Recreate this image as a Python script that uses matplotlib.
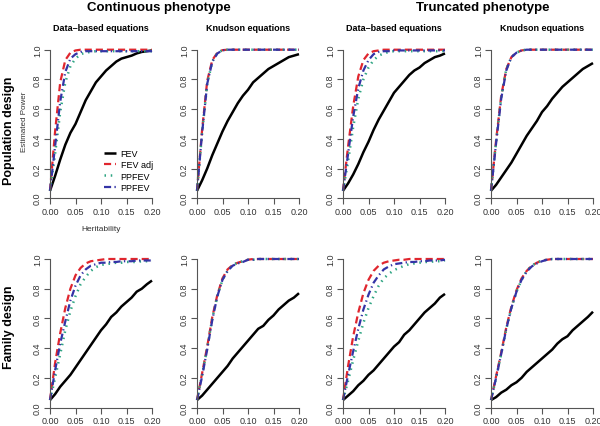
import matplotlib
matplotlib.use("Agg")
import matplotlib.pyplot as plt

plt.rcParams['font.family'] = ['Liberation Sans', 'DejaVu Sans']

# heritability grid
h = [0.00, 0.01, 0.02, 0.03, 0.04, 0.05, 0.06, 0.07, 0.08, 0.09, 0.10,
     0.11, 0.12, 0.13, 0.14, 0.15, 0.16, 0.17, 0.18, 0.19, 0.20]

# ---Continuous phenotype, population design, data-based equations
c_pop_db_fev = [0.05, 0.15, 0.26, 0.36, 0.44, 0.50, 0.58, 0.66, 0.72, 0.78, 0.82,
                0.86, 0.89, 0.92, 0.94, 0.95, 0.96, 0.975, 0.985, 0.99, 0.995]
c_pop_db_adj = [0.05, 0.45, 0.78, 0.93, 0.98, 0.995, 1.0, 1.0, 1.0, 1.0, 1.0,
                1.0, 1.0, 1.0, 1.0, 1.0, 1.0, 1.0, 1.0, 1.0, 1.0]
c_pop_db_pp = [0.05, 0.30, 0.58, 0.78, 0.89, 0.94, 0.97, 0.98, 0.985, 0.99, 0.99,
               0.99, 0.99, 0.99, 0.99, 0.99, 0.99, 0.99, 0.99, 0.99, 0.99]
c_pop_db_pp2 = [0.05, 0.35, 0.65, 0.85, 0.94, 0.97, 0.985, 0.99, 0.99, 0.99, 0.99,
                0.99, 0.99, 0.99, 0.99, 0.99, 0.99, 0.99, 0.99, 0.99, 0.99]

# ---Continuous phenotype, population design, Knudson equations
c_pop_kn_fev = [0.05, 0.12, 0.20, 0.29, 0.37, 0.45, 0.52, 0.58, 0.64, 0.69, 0.73,
                0.78, 0.81, 0.84, 0.87, 0.89, 0.91, 0.93, 0.95, 0.96, 0.97]
c_pop_kn_adj = [0.05, 0.46, 0.79, 0.93, 0.98, 0.997, 1.0, 1.0, 1.0, 1.0, 1.0,
                1.0, 1.0, 1.0, 1.0, 1.0, 1.0, 1.0, 1.0, 1.0, 1.0]
c_pop_kn_pp = [0.05, 0.44, 0.77, 0.92, 0.98, 0.996, 1.0, 1.0, 1.0, 1.0, 1.0,
               1.0, 1.0, 1.0, 1.0, 1.0, 1.0, 1.0, 1.0, 1.0, 1.0]
c_pop_kn_pp2 = [0.05, 0.44, 0.77, 0.92, 0.975, 0.996, 1.0, 1.0, 1.0, 1.0, 1.0,
                1.0, 1.0, 1.0, 1.0, 1.0, 1.0, 1.0, 1.0, 1.0, 1.0]

# ---Truncated phenotype, population design, data-based equations
t_pop_db_fev = [0.05, 0.10, 0.16, 0.23, 0.31, 0.38, 0.46, 0.53, 0.59, 0.65, 0.71,
                0.75, 0.79, 0.83, 0.86, 0.88, 0.91, 0.93, 0.95, 0.96, 0.975]
t_pop_db_adj = [0.05, 0.35, 0.62, 0.82, 0.93, 0.975, 0.99, 0.995, 1.0, 1.0, 1.0,
                1.0, 1.0, 1.0, 1.0, 1.0, 1.0, 1.0, 1.0, 1.0, 1.0]
t_pop_db_pp = [0.05, 0.25, 0.48, 0.67, 0.80, 0.88, 0.93, 0.96, 0.975, 0.985, 0.99,
               0.99, 0.99, 0.99, 0.99, 0.99, 0.99, 0.99, 0.99, 0.99, 0.99]
t_pop_db_pp2 = [0.05, 0.30, 0.55, 0.74, 0.86, 0.93, 0.97, 0.985, 0.99, 0.99, 0.995,
                0.995, 0.995, 0.995, 0.995, 0.995, 0.995, 0.995, 0.995, 0.995, 0.995]

# ---Truncated phenotype, population design, Knudson equations
t_pop_kn_fev = [0.05, 0.09, 0.14, 0.19, 0.24, 0.30, 0.36, 0.42, 0.47, 0.52, 0.58,
                0.62, 0.67, 0.71, 0.75, 0.78, 0.81, 0.84, 0.87, 0.89, 0.91]
t_pop_kn_adj = [0.05, 0.39, 0.69, 0.87, 0.95, 0.98, 0.995, 1.0, 1.0, 1.0, 1.0,
                1.0, 1.0, 1.0, 1.0, 1.0, 1.0, 1.0, 1.0, 1.0, 1.0]
t_pop_kn_pp = [0.05, 0.38, 0.68, 0.87, 0.95, 0.98, 0.995, 1.0, 1.0, 1.0, 1.0,
               1.0, 1.0, 1.0, 1.0, 1.0, 1.0, 1.0, 1.0, 1.0, 1.0]
t_pop_kn_pp2 = [0.05, 0.37, 0.67, 0.86, 0.95, 0.98, 0.995, 1.0, 1.0, 1.0, 1.0,
                1.0, 1.0, 1.0, 1.0, 1.0, 1.0, 1.0, 1.0, 1.0, 1.0]

# ---Continuous phenotype, family design, data-based equations
c_fam_db_fev = [0.05, 0.09, 0.14, 0.18, 0.22, 0.27, 0.32, 0.37, 0.42, 0.47, 0.52,
                0.56, 0.61, 0.64, 0.68, 0.71, 0.74, 0.78, 0.80, 0.83, 0.855]
c_fam_db_adj = [0.05, 0.30, 0.50, 0.67, 0.80, 0.89, 0.94, 0.97, 0.985, 0.99, 0.995,
                1.0, 1.0, 1.0, 1.0, 1.0, 1.0, 1.0, 1.0, 1.0, 1.0]
c_fam_db_pp = [0.05, 0.20, 0.36, 0.52, 0.65, 0.75, 0.83, 0.88, 0.92, 0.945, 0.96,
               0.965, 0.97, 0.975, 0.975, 0.98, 0.98, 0.98, 0.985, 0.985, 0.985]
c_fam_db_pp2 = [0.05, 0.25, 0.43, 0.58, 0.72, 0.82, 0.89, 0.93, 0.955, 0.965, 0.975,
                0.975, 0.98, 0.98, 0.985, 0.985, 0.985, 0.99, 0.99, 0.99, 0.99]

# ---Continuous phenotype, family design, Knudson equations
c_fam_kn_fev = [0.05, 0.08, 0.12, 0.16, 0.20, 0.24, 0.28, 0.33, 0.37, 0.41, 0.45,
                0.49, 0.53, 0.55, 0.59, 0.62, 0.66, 0.69, 0.72, 0.74, 0.77]
c_fam_kn_adj = [0.05, 0.23, 0.41, 0.61, 0.76, 0.87, 0.93, 0.96, 0.975, 0.985, 0.995,
                1.0, 1.0, 1.0, 1.0, 1.0, 1.0, 1.0, 1.0, 1.0, 1.0]
c_fam_kn_pp = [0.05, 0.22, 0.40, 0.60, 0.75, 0.86, 0.92, 0.96, 0.975, 0.985, 0.995,
               0.995, 1.0, 1.0, 1.0, 1.0, 1.0, 1.0, 1.0, 1.0, 1.0]
c_fam_kn_pp2 = [0.05, 0.21, 0.39, 0.59, 0.75, 0.86, 0.92, 0.955, 0.97, 0.98, 0.995,
                0.995, 1.0, 1.0, 1.0, 1.0, 1.0, 1.0, 1.0, 1.0, 1.0]

# ---Truncated phenotype, family design, data-based equations
t_fam_db_fev = [0.05, 0.08, 0.11, 0.15, 0.18, 0.22, 0.25, 0.29, 0.33, 0.37, 0.41,
                0.44, 0.49, 0.52, 0.56, 0.60, 0.64, 0.67, 0.70, 0.74, 0.765]
t_fam_db_adj = [0.05, 0.28, 0.48, 0.64, 0.77, 0.86, 0.92, 0.955, 0.975, 0.985, 0.99,
                0.995, 0.995, 1.0, 1.0, 1.0, 1.0, 1.0, 1.0, 1.0, 1.0]
t_fam_db_pp = [0.05, 0.18, 0.32, 0.45, 0.57, 0.67, 0.75, 0.82, 0.87, 0.90, 0.925,
               0.94, 0.955, 0.965, 0.97, 0.975, 0.98, 0.98, 0.985, 0.985, 0.99]
t_fam_db_pp2 = [0.05, 0.22, 0.38, 0.53, 0.66, 0.76, 0.84, 0.89, 0.93, 0.95, 0.965,
                0.97, 0.975, 0.98, 0.98, 0.985, 0.985, 0.99, 0.99, 0.99, 0.995]

# ---Truncated phenotype, family design, Knudson equations
t_fam_kn_fev = [0.05, 0.07, 0.10, 0.12, 0.15, 0.17, 0.20, 0.24, 0.27, 0.30, 0.33,
                0.36, 0.39, 0.43, 0.46, 0.48, 0.52, 0.55, 0.58, 0.61, 0.645]
t_fam_kn_adj = [0.05, 0.21, 0.37, 0.54, 0.68, 0.79, 0.87, 0.92, 0.955, 0.975, 0.99,
                0.995, 1.0, 1.0, 1.0, 1.0, 1.0, 1.0, 1.0, 1.0, 1.0]
t_fam_kn_pp = [0.05, 0.20, 0.36, 0.53, 0.67, 0.78, 0.86, 0.92, 0.955, 0.975, 0.99,
               0.995, 1.0, 1.0, 1.0, 1.0, 1.0, 1.0, 1.0, 1.0, 1.0]
t_fam_kn_pp2 = [0.05, 0.20, 0.36, 0.53, 0.67, 0.78, 0.86, 0.915, 0.95, 0.97, 0.985,
                0.995, 1.0, 1.0, 1.0, 1.0, 1.0, 1.0, 1.0, 1.0, 1.0]

labels = ['FEV', 'FEV adj', 'PPFEV', 'PPFEV']
colors = ['black', '#E0262E', '#2FA583', '#3434A6']
styles = ['-', (0, (3.2, 1.8)), (0, (0.6, 1.9)), (0, (3.2, 1.5, 0.6, 1.5))]
widths = [1.8, 1.6, 1.8, 1.6]

panels = [
    [c_pop_db_fev, c_pop_db_adj, c_pop_db_pp, c_pop_db_pp2],
    [c_pop_kn_fev, c_pop_kn_adj, c_pop_kn_pp, c_pop_kn_pp2],
    [t_pop_db_fev, t_pop_db_adj, t_pop_db_pp, t_pop_db_pp2],
    [t_pop_kn_fev, t_pop_kn_adj, t_pop_kn_pp, t_pop_kn_pp2],
    [c_fam_db_fev, c_fam_db_adj, c_fam_db_pp, c_fam_db_pp2],
    [c_fam_kn_fev, c_fam_kn_adj, c_fam_kn_pp, c_fam_kn_pp2],
    [t_fam_db_fev, t_fam_db_adj, t_fam_db_pp, t_fam_db_pp2],
    [t_fam_kn_fev, t_fam_kn_adj, t_fam_kn_pp, t_fam_kn_pp2],
]
subtitles = ['Data\u2013based equations', 'Knudson equations',
             'Data\u2013based equations', 'Knudson equations']

W, H = 600, 427
fig = plt.figure(figsize=(6, 4.27), dpi=100)
lefts = [50, 197, 343, 491]
tops = [50.7, 260]
pw, ph = 102, 148.5
gray = '#555555'

axes = []
for k, series in enumerate(panels):
    r, c = divmod(k, 4)
    ax = fig.add_axes([lefts[c] / W, 1 - (tops[r] + ph) / H, pw / W, ph / H])
    for y, lab, col, ls, lw in zip(series, labels, colors, styles, widths):
        ax.plot(h, y, color=col, linestyle=ls, linewidth=lw, label=lab,
                solid_capstyle='butt', dash_capstyle='butt', clip_on=False)
    ax.set_xlim(0, 0.2)
    ax.set_ylim(0, 1)
    ax.set_xticks([0, 0.05, 0.10, 0.15, 0.20])
    ax.set_xticklabels(['0.00', '0.05', '0.10', '0.15', '0.20'])
    ax.set_yticks([0, 0.2, 0.4, 0.6, 0.8, 1.0])
    ax.set_yticklabels(['0.0', '0.2', '0.4', '0.6', '0.8', '1.0'],
                       rotation=90, va='center')
    for s in ['top', 'right']:
        ax.spines[s].set_visible(False)
    for s in ['left', 'bottom']:
        ax.spines[s].set_color(gray)
        ax.spines[s].set_linewidth(0.8)
    ax.tick_params(axis='both', length=4, width=0.8, color=gray,
                   labelsize=6.5, labelcolor='#333333')
    ax.tick_params(axis='x', pad=2)
    ax.tick_params(axis='y', pad=1.7)
    if r == 0:
        ax.set_title(subtitles[c], fontsize=6.5, fontweight='bold', pad=14)
    axes.append(ax)

ax1 = axes[0]
ax1.set_ylabel('Estimated Power', fontsize=5.8, color='#333333')
ax1.yaxis.set_label_coords(-0.22, 0.52)
ax1.set_xlabel('Heritability', fontsize=6, color='#333333', labelpad=7)
ax1.legend(loc='lower left', bbox_to_anchor=(0.47, 0.0), frameon=False,
           fontsize=6.5, handlelength=1.3, handletextpad=0.5,
           labelspacing=0.25, borderpad=0.2)

fig.text(159 / W, 1 - 8 / H, 'Continuous phenotype', fontsize=9.5,
         fontweight='bold', ha='center', va='center')
fig.text(483 / W, 1 - 8 / H, 'Truncated phenotype', fontsize=9.5,
         fontweight='bold', ha='center', va='center')
fig.text(9 / W, 1 - 131 / H, 'Population design', fontsize=9,
         fontweight='bold', rotation=90, ha='center', va='center')
fig.text(9 / W, 1 - 327 / H, 'Family design', fontsize=9,
         fontweight='bold', rotation=90, ha='center', va='center')

fig.savefig('out.png', dpi=100)
